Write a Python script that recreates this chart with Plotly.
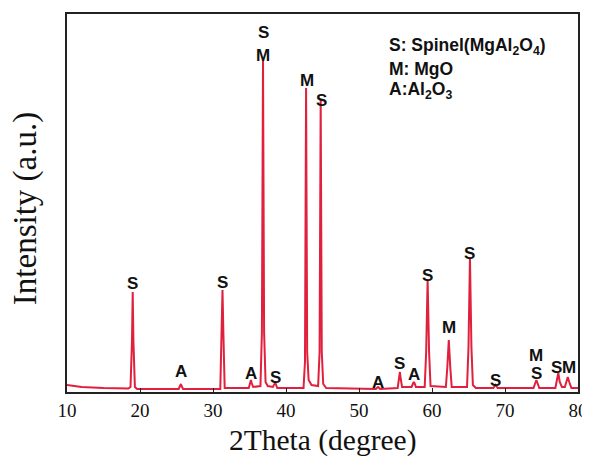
import plotly.graph_objects as go

# XRD profile (2theta in degrees, intensity in a.u.)
two_theta = [10.0, 12.0, 15.0, 18.4, 18.7, 18.9, 19.0, 19.1, 19.3, 19.6,
             25.3, 25.5, 25.6, 25.7, 25.9,
             31.0, 31.15, 31.3, 31.45, 31.6,
             34.9, 35.1, 35.2, 35.3, 35.5,
             36.5, 36.7, 36.85, 37.0, 37.2, 37.5,
             38.2, 38.4, 38.5, 38.6, 38.8,
             42.4, 42.6, 42.75, 42.9, 43.1, 43.5,
             44.4, 44.6, 44.75, 44.9, 45.1, 45.5,
             52.3, 52.5, 52.6, 52.7, 52.9,
             55.3, 55.5, 55.6, 55.7, 55.9,
             57.2, 57.4, 57.5, 57.6, 57.8,
             59.0, 59.2, 59.4, 59.6, 59.8,
             61.9, 62.1, 62.3, 62.5, 62.7,
             64.8, 65.0, 65.2, 65.4, 65.6, 66.0,
             68.4, 68.6, 68.7, 68.8, 69.0,
             73.9, 74.1, 74.3, 74.5, 74.7,
             76.9, 77.1, 77.3, 77.5, 77.8,
             78.2, 78.4, 78.6, 78.8, 79.1, 80.0]
intensity = [7, 5, 4, 3.5, 5, 50, 100, 50, 5, 3,
             3, 6, 8, 6, 3,
             3, 50, 102, 50, 4,
             4, 9, 12, 9, 5,
             6, 60, 332, 60, 10, 6,
             5, 8, 9, 8, 4,
             4, 30, 304, 40, 12, 7,
             6, 40, 292, 40, 8, 4,
             3, 4.5, 5, 4.5, 3,
             4, 14, 20, 14, 5,
             5, 9, 10, 9, 5,
             5, 40, 112, 40, 6,
             5, 25, 52, 25, 5,
             5, 45, 134, 45, 7, 4,
             4, 6, 7, 6, 4,
             4, 8, 12, 8, 4,
             4, 12, 19, 10, 5,
             5, 11, 15, 10, 4, 4]

# Phase labels placed over the peaks
label_text = ["S", "A", "S", "A", "S", "M", "S", "M", "S", "A", "S", "A",
              "S", "M", "S", "S", "M", "S", "S", "M"]
label_x = [19.0, 25.6, 31.3, 35.2, 36.9, 36.9, 38.6, 42.9, 44.8, 52.6, 55.6, 57.5,
           59.4, 62.3, 65.2, 68.7, 74.3, 74.3, 77.0, 78.7]
label_y = [109, 21, 110, 19, 360, 337, 15, 312, 292, 10, 29, 18,
           117, 65, 139, 12, 37, 19, 25, 25]

legend_lines = ["S: Spinel(MgAl<sub>2</sub>O<sub>4</sub>)", "M: MgO",
                "A:Al<sub>2</sub>O<sub>3</sub>"]

x_ticks = [10, 20, 30, 40, 50, 60, 70, 80]

SANS = "Liberation Sans, Arial"
SERIF = "Liberation Serif, Times New Roman"

fig = go.Figure()
fig.add_trace(go.Scatter(x=two_theta, y=intensity, mode="lines",
                         line=dict(color="#e0203c", width=2),
                         showlegend=False, hoverinfo="skip"))

for t, x, y in zip(label_text, label_x, label_y):
    fig.add_annotation(x=x, y=y, text="<b>%s</b>" % t, showarrow=False,
                       xref="x", yref="y",
                       font=dict(family=SANS, size=17, color="#111"))

leg_y = [0.913, 0.855, 0.798]
for t, yy in zip(legend_lines, leg_y):
    fig.add_annotation(x=0.627, y=yy, xref="paper", yref="paper", xanchor="left",
                       yanchor="middle", text="<b>%s</b>" % t, showarrow=False,
                       font=dict(family=SANS, size=17.5, color="#111"))

# axis titles
fig.add_annotation(x=0.5, y=-0.127, xref="paper", yref="paper", xanchor="center",
                   yanchor="middle", text="2Theta (degree)", showarrow=False,
                   font=dict(family=SERIF, size=29.5, color="#111"))
fig.add_annotation(x=-0.082, y=0.484, xref="paper", yref="paper", xanchor="center",
                   yanchor="middle", text="Intensity (a.u.)", showarrow=False,
                   textangle=-90, font=dict(family=SERIF, size=33, color="#111"))

fig.update_layout(
    width=582, height=455,
    margin=dict(l=59, r=12, t=6, b=71),
    paper_bgcolor="white", plot_bgcolor="white",
    xaxis=dict(range=[10, 80], tickvals=x_ticks, ticks="inside", ticklen=4,
               tickwidth=1.2, tickcolor="#222", showgrid=False, zeroline=False,
               showline=True, linecolor="#222", linewidth=1.5, mirror=True,
               automargin=False,
               tickfont=dict(family=SERIF, size=19, color="#111")),
    yaxis=dict(range=[0, 378], showticklabels=False, ticks="", showgrid=False,
               zeroline=False, showline=True, linecolor="#222", linewidth=1.5, mirror=True,
               automargin=False),
)

fig.write_html("out.html")
